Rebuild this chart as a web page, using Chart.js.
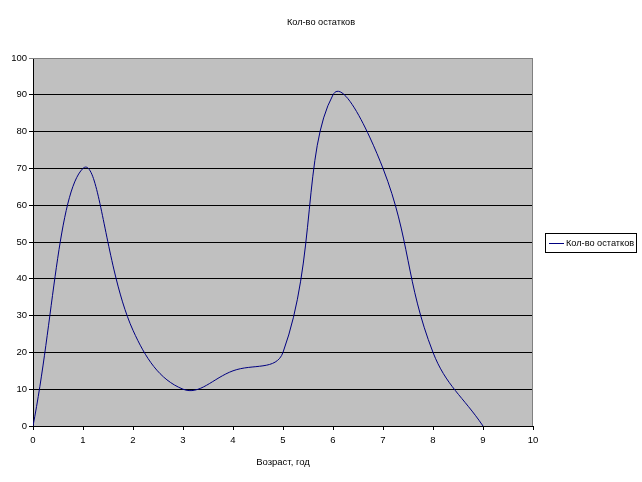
<!DOCTYPE html>
<html>
<head>
<meta charset="utf-8">
<script src="https://cdn.jsdelivr.net/npm/chart.js@4/dist/chart.umd.min.js"></script>
<style>
  html, body { margin: 0; padding: 0; background: #fff; }
  #wrap { width: 642px; height: 482px; }
</style>
</head>
<body>
<div id="wrap"><canvas id="myChart" width="642" height="482"></canvas></div>
<script>
// данные с графика
const ages = [0, 1, 2, 3, 4, 5, 6, 7, 8, 9];
const remains = [0, 70, 26, 10, 15, 20, 90, 70, 20, 0];
const seriesName = 'Кол-во остатков';
const chartTitle = 'Кол-во остатков';
const xTitle = 'Возраст, год';

const FONT = '"Liberation Sans", Arial, sans-serif';

// серый фон области построения + рамка
const plotArea = {
    id: 'plotArea',
    beforeDraw(chart) {
        const { ctx, chartArea: a } = chart;
        ctx.save();
        ctx.fillStyle = '#c0c0c0';
        ctx.fillRect(a.left, a.top, a.right - a.left, a.bottom - a.top);
        ctx.restore();
    },
    afterDraw(chart) {
        const { ctx, chartArea: a } = chart;
        ctx.save();
        ctx.strokeStyle = '#808080';
        ctx.lineWidth = 1;
        ctx.beginPath();
        ctx.moveTo(a.left, a.top + 0.5);
        ctx.lineTo(a.right - 0.5, a.top + 0.5);
        ctx.lineTo(a.right - 0.5, a.bottom);
        ctx.stroke();

        // заголовок
        ctx.fillStyle = '#000';
        ctx.font = '9.2px ' + FONT;
        ctx.textAlign = 'center';
        ctx.textBaseline = 'middle';
        ctx.fillText(chartTitle, 321, 22);

        // легенда в рамке
        const ds = chart.data.datasets[0];
        ctx.fillStyle = '#fff';
        ctx.fillRect(545, 233, 92, 19);
        ctx.strokeStyle = '#000';
        ctx.strokeRect(545.5, 233.5, 91, 19);
        ctx.strokeStyle = ds.borderColor;
        ctx.beginPath();
        ctx.moveTo(549, 243.5);
        ctx.lineTo(564, 243.5);
        ctx.stroke();
        ctx.fillStyle = '#000';
        ctx.textAlign = 'left';
        ctx.fillText(ds.label, 566, 243.5);
        ctx.restore();
    }
};

const ctx = document.getElementById('myChart').getContext('2d');
new Chart(ctx, {
    type: 'line',
    data: {
        datasets: [{
            label: seriesName,
            data: ages.map((a, i) => ({ x: a, y: remains[i] })),
            borderColor: '#000080',
            borderWidth: 1,
            pointRadius: 0,
            fill: false,
            tension: 0.4
        }]
    },
    options: {
        responsive: false,
        animation: false,
        layout: { padding: { left: 0, top: 58, right: 109, bottom: 14 } },
        plugins: {
            legend: { display: false },
            title: { display: false },
            tooltip: { enabled: false }
        },
        scales: {
            x: {
                type: 'linear',
                min: 0,
                max: 10,
                ticks: { stepSize: 1, color: '#000', font: { family: FONT, size: 9.5 }, padding: 5, maxRotation: 0 },
                grid: { drawOnChartArea: false, drawTicks: true, tickLength: 4, color: '#000' },
                border: { color: '#000' },
                title: { display: true, text: xTitle, color: '#000', font: { family: FONT, size: 9.5 }, padding: { top: 6, bottom: 0 } },
                afterFit(scale) { scale.height = 42; }
            },
            y: {
                min: 0,
                max: 100,
                ticks: { stepSize: 10, color: '#000', font: { family: FONT, size: 9.5 }, padding: 2 },
                grid: {
                    tickLength: 4,
                    color: c => (c.tick && c.tick.value === 100) ? '#808080' : '#000'
                },
                border: { color: '#000' },
                afterFit(scale) { scale.width = 33; }
            }
        }
    },
    plugins: [plotArea]
});
</script>
</body>
</html>
